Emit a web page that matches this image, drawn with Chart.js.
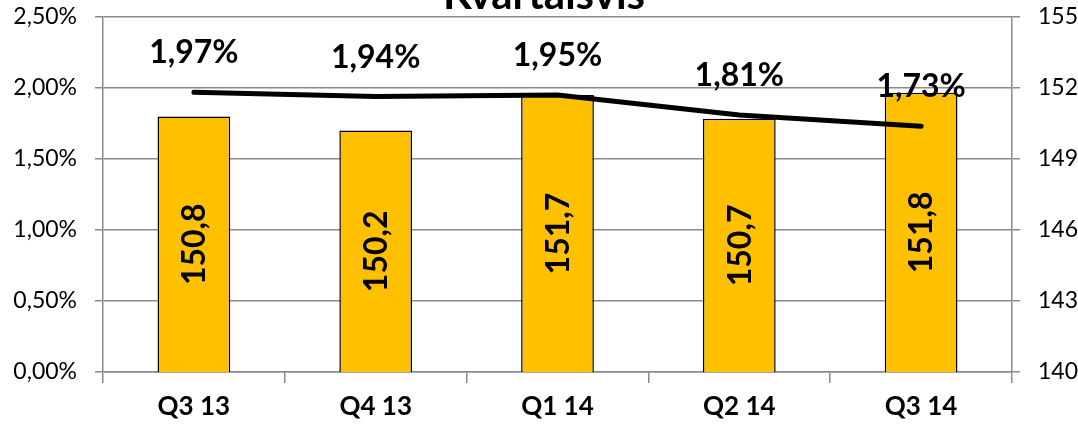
<!DOCTYPE html>
<html>
<head>
<meta charset="utf-8">
<script src="https://cdn.jsdelivr.net/npm/chart.js@4"></script>
<style>
  html, body { margin: 0; padding: 0; background: #fff; }
  #wrap { width: 1078px; height: 424px; position: relative; }
</style>
</head>
<body>
<div id="wrap"><canvas id="kvartal"></canvas></div>
<script>
// kvartalen och värdena
const quarters = ["Q3 13", "Q4 13", "Q1 14", "Q2 14", "Q3 14"];
const index_values = [150.8, 150.2, 151.7, 150.7, 151.8];
const pct_values = [1.97, 1.94, 1.95, 1.81, 1.73];
const pct_ticks = [0, 0.5, 1, 1.5, 2, 2.5];
const index_ticks = [140, 143, 146, 149, 152, 155];
const chart_title = "Kvartalsvis";

const FONT = "Lato, 'Open Sans', sans-serif";
const GRID = "#8a8a8a";

const comma = (v, d) => v.toFixed(d).replace(".", ",");

// etiketter direkt på staplar och linje
const labelPlugin = {
  id: "labels",
  afterDraw(chart) {
    const ctx = chart.ctx;
    const xs = chart.scales.x;
    const yIdx = chart.scales.yIdx;
    const yPct = chart.scales.yPct;
    ctx.save();
    ctx.fillStyle = "#000";
    ctx.textAlign = "center";

    // stapelvärden, roterade, mitt i stapeln
    ctx.font = "bold 32px " + FONT;
    ctx.textBaseline = "middle";
    index_values.forEach((v, i) => {
      const x = xs.getPixelForValue(i);
      const mid = (yIdx.getPixelForValue(v) + yIdx.bottom) / 2;
      ctx.save();
      ctx.translate(x, mid);
      ctx.rotate(-Math.PI / 2);
      ctx.fillText(comma(v, 1), 0, 1);
      ctx.restore();
    });

    // procentvärden ovanför linjen
    ctx.textBaseline = "alphabetic";
    pct_values.forEach((v, i) => {
      const x = xs.getPixelForValue(i);
      const y = yPct.getPixelForValue(v);
      ctx.fillText(comma(v, 2) + "%", x, y - 29);
    });

    // rubriken, avklippt upptill som i originalet
    ctx.font = "bold 42px " + FONT;
    ctx.fillText(chart_title, 544, 9);
    ctx.restore();
  }
};

const noPad = scale => { scale.paddingTop = 0; scale.paddingBottom = 0; };

new Chart(document.getElementById("kvartal"), {
  type: "bar",
  data: {
    labels: quarters,
    datasets: [{
      type: "line",
      data: pct_values,
      yAxisID: "yPct",
      borderColor: "#000",
      borderWidth: 5,
      borderCapStyle: "round",
      borderJoinStyle: "round",
      pointRadius: 0,
      tension: 0,
      order: 1
    }, {
      type: "bar",
      data: index_values,
      yAxisID: "yIdx",
      backgroundColor: "#FFC000",
      borderColor: "#000",
      borderWidth: 1.5,
      categoryPercentage: 1,
      barPercentage: 0.4,
      order: 2
    }]
  },
  options: {
    responsive: true,
    maintainAspectRatio: false,
    animation: false,
    layout: { padding: { top: 17, left: 0, right: 0, bottom: 0 } },
    plugins: {
      legend: { display: false },
      tooltip: { enabled: false },
      title: { display: false }
    },
    scales: {
      x: {
        offset: true,
        grid: {
          display: true,
          offset: true,
          drawOnChartArea: false,
          drawTicks: true,
          tickLength: 11,
          color: GRID,
          lineWidth: 1.5
        },
        border: { display: true, color: GRID, width: 1.5 },
        ticks: {
          color: "#000",
          padding: 8,
          font: { family: FONT, size: 26, weight: "bold" }
        },
        afterFit(scale) { scale.height = 52; }
      },
      yPct: {
        position: "left",
        min: 0,
        max: 2.5,
        afterBuildTicks(scale) { scale.ticks = pct_ticks.map(v => ({ value: v })); },
        grid: { color: GRID, lineWidth: 1.5, tickLength: 8 },
        border: { display: true, color: GRID, width: 1.5 },
        ticks: {
          color: "#000",
          padding: 18,
          font: { family: FONT, size: 23 },
          callback: v => comma(v, 2) + "%"
        },
        afterFit(scale) { scale.width = 103; noPad(scale); }
      },
      yIdx: {
        position: "right",
        min: 140,
        max: 155,
        afterBuildTicks(scale) { scale.ticks = index_ticks.map(v => ({ value: v })); },
        grid: { drawOnChartArea: false, color: GRID, lineWidth: 1.5, tickLength: 8 },
        border: { display: true, color: GRID, width: 1.5 },
        ticks: {
          color: "#000",
          padding: 18,
          font: { family: FONT, size: 23 },
          callback: v => String(v)
        },
        afterFit(scale) { scale.width = 66; noPad(scale); }
      }
    }
  },
  plugins: [labelPlugin]
});
</script>
</body>
</html>
